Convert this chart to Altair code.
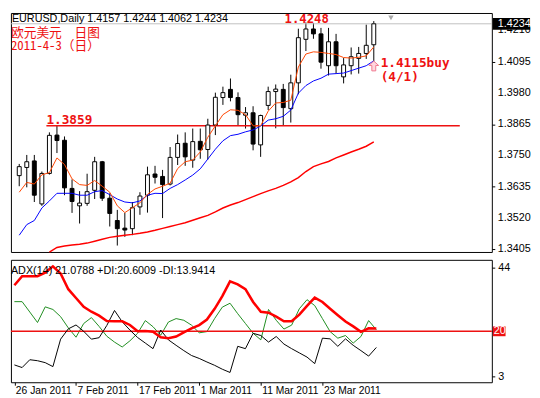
import altair as alt
import pandas as pd

# ---------------- data ----------------
bar_index = list(range(48))  # 26 Jan 2011 .. 1 Apr 2011 (daily bars)

opens = [1.3676, 1.3706, 1.3730, 1.3572, 1.3684, 1.3825, 1.3806, 1.3629, 1.3565, 1.3574,
         1.3622, 1.3727, 1.3593, 1.3511, 1.3483, 1.3481, 1.3561, 1.3604, 1.3682, 1.3673,
         1.3645, 1.3743, 1.3795, 1.3733, 1.3802, 1.3772, 1.3862, 1.3963, 1.3993, 1.3963,
         1.3898, 1.3907, 1.3789, 1.3934, 1.3985, 1.3993, 1.3922, 1.4017, 1.4177, 1.4215,
         1.4197, 1.4080, 1.4168, 1.4039, 1.4080, 1.4107, 1.4125, 1.4157]
highs = [1.3719, 1.3752, 1.3752, 1.3691, 1.3835, 1.3859, 1.3820, 1.3662, 1.3619, 1.3683,
         1.3745, 1.3730, 1.3611, 1.3550, 1.3539, 1.3579, 1.3615, 1.3709, 1.3712, 1.3697,
         1.3781, 1.3827, 1.3835, 1.3849, 1.3849, 1.3885, 1.3981, 1.4003, 1.4033, 1.3982,
         1.3928, 1.3931, 1.3900, 1.4003, 1.4011, 1.4013, 1.4047, 1.4216, 1.4239, 1.4237,
         1.4219, 1.4219, 1.4197, 1.4108, 1.4147, 1.4149, 1.4231, 1.4244]
lows = [1.3637, 1.3633, 1.3579, 1.3565, 1.3680, 1.3759, 1.3604, 1.3539, 1.3500, 1.3565,
        1.3590, 1.3583, 1.3489, 1.3419, 1.3451, 1.3457, 1.3532, 1.3540, 1.3647, 1.3520,
        1.3640, 1.3715, 1.3712, 1.3705, 1.3738, 1.3735, 1.3825, 1.3936, 1.3949, 1.3861,
        1.3849, 1.3769, 1.3745, 1.3917, 1.3850, 1.3862, 1.3871, 1.3975, 1.4134, 1.4179,
        1.4069, 1.4044, 1.4051, 1.4015, 1.4048, 1.4051, 1.4105, 1.4062]
closes = [1.3709, 1.3727, 1.3604, 1.3684, 1.3824, 1.3805, 1.3631, 1.3581, 1.3575, 1.3617,
          1.3727, 1.3593, 1.3537, 1.3481, 1.3476, 1.3558, 1.3601, 1.3679, 1.3670, 1.3643,
          1.3743, 1.3794, 1.3745, 1.3801, 1.3771, 1.3862, 1.3964, 1.3981, 1.3963, 1.3900,
          1.3907, 1.3792, 1.3897, 1.3985, 1.3994, 1.3926, 1.4017, 1.4183, 1.4215, 1.4197,
          1.4093, 1.4168, 1.4080, 1.4083, 1.4113, 1.4125, 1.4155, 1.4234]

ma_fast = [1.3615, 1.3651, 1.3645, 1.3679, 1.3687, 1.3741, 1.3717, 1.3664, 1.3643, 1.3640,
           1.3658, 1.3637, 1.3615, 1.3565, 1.3540, 1.3558, 1.3576, 1.3607, 1.3627, 1.3637,
           1.3648, 1.3702, 1.3727, 1.3733, 1.3763, 1.3817, 1.3859, 1.3900, 1.3918, 1.3916,
           1.3900, 1.3859, 1.3859, 1.3913, 1.3943, 1.3945, 1.3953, 1.4075, 1.4123, 1.4131,
           1.4129, 1.4125, 1.4121, 1.4110, 1.4108, 1.4111, 1.4116, 1.4149]
ma_mid = [1.3457, 1.3496, 1.3511, 1.3557, 1.3583, 1.3611, 1.3611, 1.3611, 1.3604, 1.3604,
          1.3617, 1.3621, 1.3606, 1.3590, 1.3579, 1.3576, 1.3583, 1.3604, 1.3611, 1.3610,
          1.3629, 1.3643, 1.3660, 1.3678, 1.3701, 1.3737, 1.3773, 1.3804, 1.3823, 1.3828,
          1.3837, 1.3844, 1.3858, 1.3880, 1.3885, 1.3894, 1.3917, 1.3979, 1.4007, 1.4024,
          1.4034, 1.4049, 1.4051, 1.4053, 1.4062, 1.4071, 1.4080, 1.4098]
ma_slow = [None, None, None, None, 1.3395, 1.3412, 1.3417, 1.3421, 1.3424, 1.3428,
           1.3435, 1.3442, 1.3449, 1.3453, 1.3457, 1.3460, 1.3464, 1.3469, 1.3475, 1.3482,
           1.3489, 1.3496, 1.3503, 1.3512, 1.3521, 1.3530, 1.3543, 1.3557, 1.3568, 1.3577,
           1.3588, 1.3599, 1.3610, 1.3620, 1.3629, 1.3640, 1.3653, 1.3669, 1.3691, 1.3709,
           1.3719, 1.3728, 1.3741, 1.3752, 1.3763, 1.3773, 1.3784, 1.3800]

adx = [37.28, 40.70, 40.70, 40.70, 42.06, 44.38, 41.69, 35.81, 32.50, 29.19,
       27.35, 25.88, 23.86, 23.79, 23.79, 22.39, 20.00, 20.11, 19.89, 17.79,
       17.43, 18.05, 19.63, 21.10, 22.32, 24.41, 28.46, 33.24, 38.75, 37.65,
       35.81, 31.03, 27.35, 26.99, 25.51, 23.79, 23.79, 26.25, 29.56, 32.68,
       31.03, 28.46, 26.07, 23.68, 21.84, 19.82, 21.10, 21.08]
plus_di = [31.14, 31.14, 27.24, 23.31, 29.19, 28.20, 25.51, 21.29, 17.79, 22.94,
           25.15, 21.84, 18.16, 15.96, 14.12, 16.43, 19.26, 24.04, 21.73, 18.53,
           23.49, 24.78, 24.15, 22.32, 19.45, 19.89, 24.78, 29.08, 30.55, 26.62,
           22.94, 19.26, 16.80, 28.20, 24.15, 20.85, 22.32, 28.46, 31.88, 29.67,
           24.78, 19.89, 17.43, 18.42, 15.59, 18.05, 24.04, 20.60]
minus_di = [7.39, 6.40, 9.34, 8.97, 8.24, 6.76, 17.06, 20.92, 22.39, 20.00,
            17.06, 17.61, 22.21, 27.83, 23.57, 20.48, 17.68, 15.59, 13.49, 20.48,
            16.80, 14.74, 12.76, 10.92, 9.82, 8.49, 7.24, 5.77, 4.56, 14.37,
            13.49, 19.26, 18.42, 15.96, 18.05, 15.22, 13.49, 11.91, 10.33, 7.87,
            17.43, 17.17, 14.37, 17.17, 14.74, 12.76, 10.70, 13.94]

date_tick_pos = [0, 8, 16, 24, 32, 40]
date_tick_labels = ["26 Jan 2011", "7 Feb 2011", "17 Feb 2011", "1 Mar 2011",
                    "11 Mar 2011", "23 Mar 2011"]
price_ticks = [1.4210, 1.4095, 1.3980, 1.3865, 1.3750, 1.3635, 1.3520, 1.3405]
adx_ticks = [44, 20, 3]

last_price = 1.4234
level_price = 1.3859
level_start, level_end = 3.6, 58.4
high_price, high_bar = 1.4248, 38.1
buy_price, buy_bar = 1.4115, 47
adx_level = 20

title_text = "EURUSD,Daily  1.4157 1.4244 1.4062 1.4234"
adx_text = "ADX(14) 21.0788 +DI:20.6009 -DI:13.9414"
cn_line1 = "欧元美元　日图"
cn_line2 = "2011-4-3（日）"

# ---------------- chart ----------------
RED = "#ee1111"
UIFONT = "Liberation Sans Narrow, Liberation Sans, sans-serif"
MONO = "DejaVu Sans Mono"
CJK = "Noto Sans Mono CJK SC, Noto Sans CJK SC, sans-serif"

df = pd.DataFrame({
    "k": bar_index, "open": opens, "high": highs, "low": lows, "close": closes,
    "ma_fast": ma_fast, "ma_mid": ma_mid, "ma_slow": ma_slow,
    "adx": adx, "pdi": plus_di, "mdi": minus_di,
})
df["body_lo"] = df[["open", "close"]].min(axis=1)
df["body_hi"] = df[["open", "close"]].max(axis=1)

ticks_df = pd.DataFrame({"p": price_ticks, "label": [f"{p:.4f}" for p in price_ticks]})

W = 491
xscale = alt.Scale(domain=[-0.45, 62], nice=False, zero=False)
yscale = alt.Scale(domain=[1.33953, 1.42737], nice=False, zero=False)
ascale = alt.Scale(domain=[0.88, 46.84], nice=False, zero=False)

X = alt.X("k:Q", scale=xscale, axis=None)

base = alt.Chart(df)

# ticks from the axis; the tick labels are drawn as a text layer below
price_axis = alt.Axis(orient="right", values=price_ticks, grid=False, labels=False,
                      tickSize=3, domain=False, tickColor="black", title=None)

cur_line = alt.Chart().mark_rule(color="#c0c0c0", strokeWidth=1).encode(
    y=alt.datum(last_price, scale=yscale, type="quantitative"))

level_line = alt.Chart().mark_rule(color=RED, strokeWidth=1.5).encode(
    x=alt.datum(level_start, scale=xscale, axis=None), x2=alt.datum(level_end),
    y=alt.datum(level_price))

wicks = base.mark_rule(color="black", strokeWidth=1).encode(
    x=X, y=alt.Y("low:Q", scale=yscale, axis=price_axis, title=None), y2="high:Q")

bodies = base.mark_bar(size=4, stroke="black", strokeWidth=1, orient="vertical").encode(
    x=X, y=alt.Y("body_lo:Q", scale=yscale, title=None), y2="body_hi:Q",
    color=alt.condition("datum.close >= datum.open", alt.value("white"), alt.value("black")))

line_slow = base.transform_filter("isValid(datum.ma_slow)").mark_line(
    color="#ff0000", strokeWidth=1.5).encode(x=X, y=alt.Y("ma_slow:Q", scale=yscale))
line_mid = base.mark_line(color="#0000ff", strokeWidth=1).encode(
    x=X, y=alt.Y("ma_mid:Q", scale=yscale))
line_fast = base.mark_line(color="#ff4500", strokeWidth=1).encode(
    x=X, y=alt.Y("ma_fast:Q", scale=yscale))

price_labels = alt.Chart(ticks_df).mark_text(color="black", font=UIFONT, fontSize=11,
                                             align="left", baseline="middle").encode(
    x=alt.value(W + 6), y=alt.Y("p:Q", scale=yscale), text="label:N")
price_box = alt.Chart().mark_rect(color="black", yOffset=-6, y2Offset=6).encode(
    x=alt.value(W + 1), x2=alt.value(W + 39),
    y=alt.datum(last_price), y2=alt.datum(last_price))
price_box_txt = alt.Chart().mark_text(color="white", font=UIFONT, fontSize=11,
                                      align="left", baseline="middle").encode(
    x=alt.value(W + 6), y=alt.datum(last_price), text=alt.value(f"{last_price:.4f}"))

title_txt = alt.Chart().mark_text(align="left", baseline="top", font=UIFONT,
                                  fontSize=11, color="black").encode(
    x=alt.value(1), y=alt.value(0), text=alt.value(title_text))
cn1 = alt.Chart().mark_text(align="left", baseline="middle", font=CJK,
                            fontSize=13, color=RED).encode(
    x=alt.value(0), y=alt.value(20), text=alt.value(cn_line1))
cn2 = alt.Chart().mark_text(align="left", baseline="middle", font=CJK,
                            fontSize=13, color=RED).encode(
    x=alt.value(0), y=alt.value(34), text=alt.value(cn_line2))

level_txt = alt.Chart().mark_text(align="left", baseline="alphabetic", dy=-2, font=MONO,
                                  fontWeight="bold", fontSize=13, color=RED).encode(
    x=alt.datum(level_start), y=alt.datum(level_price), text=alt.value(f"{level_price:.4f}"))
high_txt = alt.Chart().mark_text(align="center", baseline="top", dy=-7, font=MONO,
                                 fontWeight="bold", fontSize=12.5, color=RED).encode(
    x=alt.datum(high_bar), y=alt.datum(high_price), text=alt.value(f"{high_price:.4f}"))
buy_txt1 = alt.Chart().mark_text(align="left", baseline="middle", dx=7, dy=7, font=MONO,
                                 fontWeight="bold", fontSize=13, color=RED).encode(
    x=alt.datum(buy_bar), y=alt.datum(buy_price), text=alt.value(f"{buy_price:.4f}buy"))
buy_txt2 = alt.Chart().mark_text(align="left", baseline="middle", dx=7, dy=21, font=MONO,
                                 fontWeight="bold", fontSize=13, color=RED).encode(
    x=alt.datum(buy_bar), y=alt.datum(buy_price), text=alt.value("(4/1)"))
arrow_path = "M0,-1 L1,-0.1 L0.4,-0.1 L0.4,1 L-0.4,1 L-0.4,-0.1 L-1,-0.1 Z"
buy_arrow = alt.Chart().mark_point(shape=arrow_path, size=100, filled=True,
                                   fill="#ffd6de", stroke="#f07a90", strokeWidth=1,
                                   opacity=1, yOffset=10).encode(
    x=alt.datum(buy_bar), y=alt.datum(buy_price))
shift_mark = alt.Chart().mark_point(shape="triangle-down", size=30, filled=True,
                                    color="#a8a8a8", opacity=1).encode(
    x=alt.value(388), y=alt.value(5))

main = alt.layer(
    wicks, cur_line, level_line, bodies, line_slow, line_mid, line_fast,
    price_labels, price_box, price_box_txt, title_txt, cn1, cn2, level_txt, high_txt,
    buy_arrow, buy_txt1, buy_txt2, shift_mark,
).properties(width=W, height=244)

# ---------------- ADX pane ----------------
label_expr = "''"
for pos, lab in reversed(list(zip(date_tick_pos, date_tick_labels))):
    label_expr = f"datum.value == {pos} ? '{lab}' : {label_expr}"

date_axis = alt.Axis(orient="bottom", values=date_tick_pos, labelExpr=label_expr,
                     labelAlign="left", labelOffset=1, tickSize=3, labelPadding=0,
                     domain=False, grid=False, tickColor="black", labelColor="black",
                     labelFont=UIFONT, labelFontSize=10.5, title=None,
                     labelOverlap=False, labelBound=False)
adx_axis = alt.Axis(orient="right", values=adx_ticks, grid=False, tickSize=3,
                    labelPadding=3, domain=False, tickColor="black", labelColor="black",
                    labelFont=UIFONT, labelFontSize=11, title=None, labelOverlap=False,
                    labelExpr=f"datum.value == {adx_level} ? '' : datum.label")

XA = alt.X("k:Q", scale=xscale, axis=date_axis, title=None)

pdi_line = base.mark_line(color="#1e8c1e", strokeWidth=1).encode(
    x=XA, y=alt.Y("pdi:Q", scale=ascale, axis=adx_axis, title=None))
lvl20 = alt.Chart().mark_rule(color=RED, strokeWidth=1.5).encode(
    y=alt.datum(adx_level, scale=ascale, type="quantitative"))
mdi_line = base.mark_line(color="black", strokeWidth=1).encode(
    x=XA, y=alt.Y("mdi:Q", scale=ascale))
adx_line = base.mark_line(color="#ff0000", strokeWidth=2.6).encode(
    x=XA, y=alt.Y("adx:Q", scale=ascale))
box20 = alt.Chart().mark_rect(color=RED, yOffset=-5, y2Offset=5).encode(
    x=alt.value(W + 1), x2=alt.value(W + 14),
    y=alt.datum(adx_level), y2=alt.datum(adx_level))
txt20 = alt.Chart().mark_text(color="white", font=UIFONT, fontSize=11, align="left",
                              baseline="middle").encode(
    x=alt.value(W + 2), y=alt.datum(adx_level), text=alt.value(str(adx_level)))
adx_lbl = alt.Chart().mark_text(align="left", baseline="middle", font=UIFONT,
                                fontSize=11, color="black").encode(
    x=alt.value(0), y=alt.value(11), text=alt.value(adx_text))

adx_chart = alt.layer(pdi_line, lvl20, mdi_line, adx_line, box20, txt20, adx_lbl).properties(
    width=W, height=125)

chart = alt.vconcat(main, adx_chart, spacing=3).properties(
    padding=0, background="white"
).configure_view(stroke="black", strokeWidth=1).configure_axis(labelOverlap=False)

chart.save("out.html", embed_options={"renderer": "svg", "actions": False})
